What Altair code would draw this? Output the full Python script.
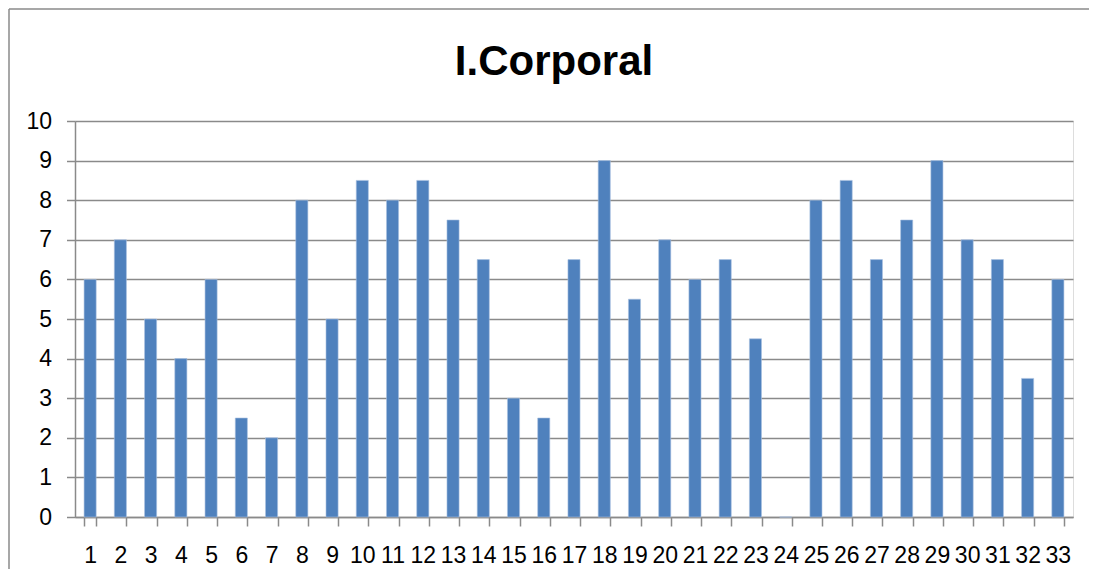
import altair as alt
import pandas as pd

categories = [str(i) for i in range(1, 34)]
values = [6, 7, 5, 4, 6, 2.5, 2, 8, 5, 8.5, 8, 8.5, 7.5, 6.5, 3, 2.5, 6.5, 9, 5.5, 7,
          6, 6.5, 4.5, 0, 8, 8.5, 6.5, 7.5, 9, 7, 6.5, 3.5, 6]
y_ticks = list(range(0, 11))
title_text = "I.Corporal"

df = pd.DataFrame({"cat": categories, "val": values})
one = pd.DataFrame({"a": [0]})

GRAY = "#8a8a8a"
FONT = "Liberation Sans"

bars = alt.Chart(df).mark_bar(color="#4F81BD", stroke="#a9c1e0", strokeWidth=0.6).encode(
    x=alt.X("cat:O", sort=categories, title=None,
            scale=alt.Scale(paddingInner=0.6, paddingOuter=0.3),
            axis=alt.Axis(labelAngle=0, tickBand="extent", tickSize=9, tickColor=GRAY,
                          tickWidth=1.5, domainColor=GRAY, domainWidth=1.5,
                          labelFont=FONT, labelFontSize=23, labelColor="black",
                          labelPadding=18, grid=False, labelBaseline="top")),
    y=alt.Y("val:Q", title=None,
            scale=alt.Scale(domain=[0, 10], nice=False),
            axis=alt.Axis(values=y_ticks, tickSize=8.5, tickColor=GRAY, tickWidth=1.5,
                          domainColor=GRAY, domainWidth=1.5, grid=True,
                          gridColor=GRAY, gridWidth=1.5,
                          labelFont=FONT, labelFontSize=23, labelColor="black",
                          labelPadding=15)),
)

frame_left = alt.Chart(one).mark_rule(color=GRAY, strokeWidth=1.5).encode(
    x=alt.value(-66), y=alt.value(-112), y2=alt.value(470))
frame_top = alt.Chart(one).mark_rule(color=GRAY, strokeWidth=1.5).encode(
    x=alt.value(-66), x2=alt.value(1030), y=alt.value(-112))

title = alt.Chart(one).mark_text(font=FONT, fontSize=42, fontWeight="bold", color="black",
                                 align="center", baseline="alphabetic").encode(
    x=alt.value(479), y=alt.value(-46.5), text=alt.value(title_text))

chart = alt.layer(frame_left, frame_top, title, bars).properties(
    width=998, height=396,
    autosize=alt.AutoSizeParams(type="none"),
    padding={"left": 67, "top": 113, "right": 16, "bottom": 52},
).configure_view(stroke=None).configure(background="white")

chart.save("out.html", embed_options={"renderer": "svg", "actions": False})
